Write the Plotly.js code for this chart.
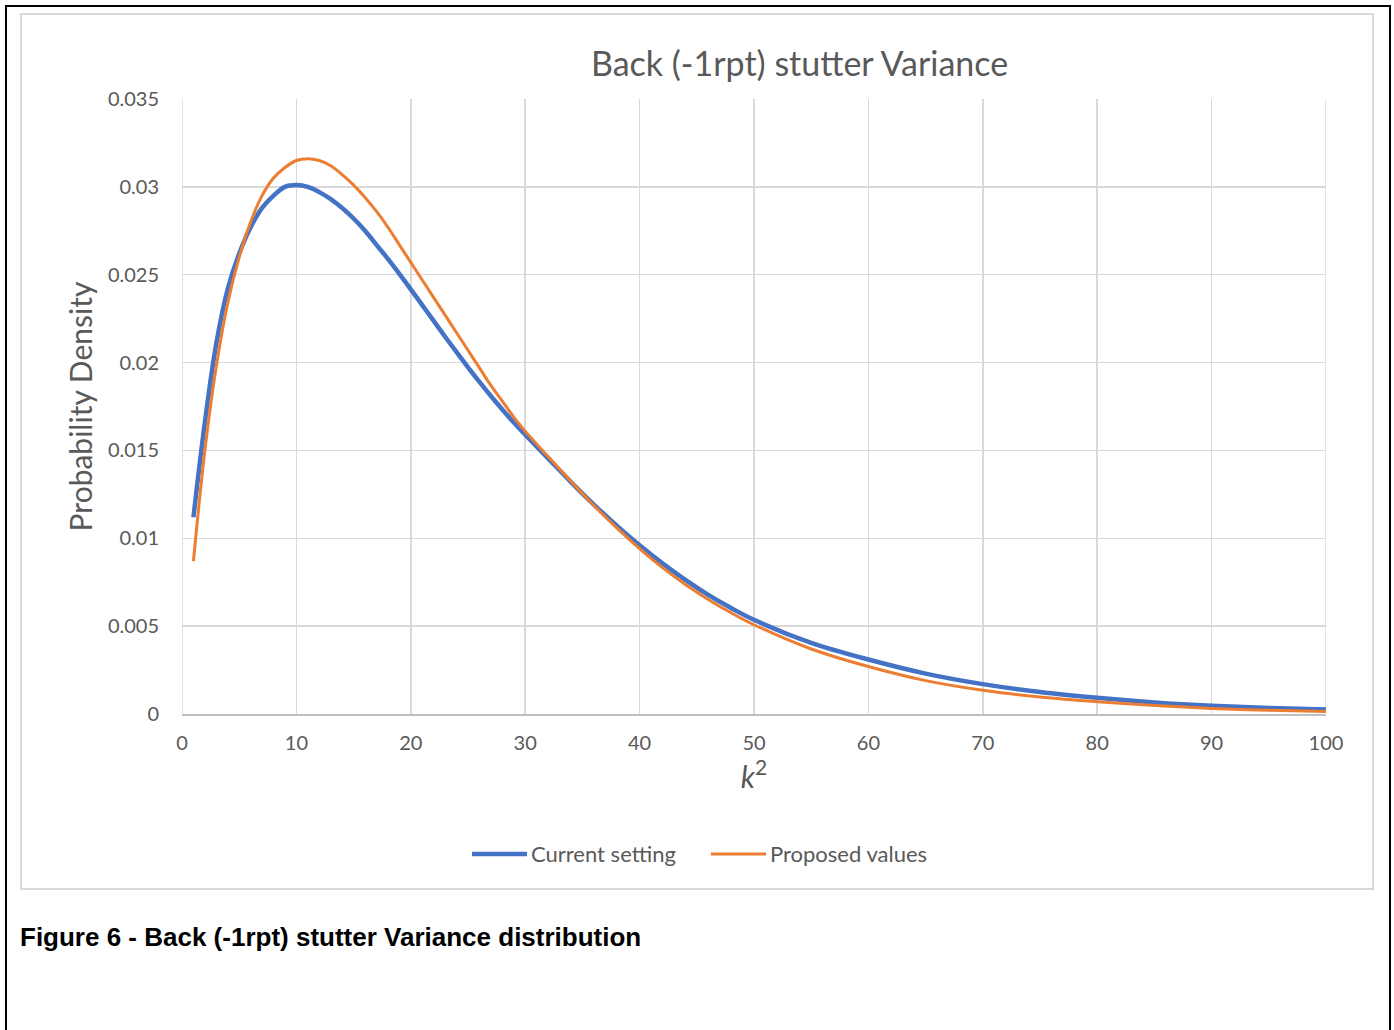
<!DOCTYPE html>
<html>
<head>
<meta charset="utf-8">
<script src="https://cdn.plot.ly/plotly-3.0.1.min.js"></script>
<style>
  html, body { margin: 0; padding: 0; background: #ffffff; }
  body { width: 1394px; height: 1030px; position: relative; overflow: hidden; }
  #frame { position: absolute; left: 5px; top: 5px; width: 1386px; height: 1040px;
           border: 2px solid #000; box-sizing: border-box; }
  #box { position: absolute; left: 20px; top: 13px; width: 1354px; height: 877px;
         border: 2px solid #d9d9d9; box-sizing: border-box; background: #fff; }
  #chart { width: 1350px; height: 873px; }
  #caption { position: absolute; left: 20px; top: 922px; font-family: "Liberation Sans", Arial, sans-serif;
             font-weight: bold; font-size: 26px; color: #000; }
</style>
</head>
<body>
<div id="frame"></div>
<div id="box"><div id="chart"></div></div>
<div id="caption">Figure 6 - Back (-1rpt) stutter Variance distribution</div>
<script>
// k^2 grid shared by both density curves
const k2 = [1, 2, 3, 4, 5, 6, 7, 8, 9, 10, 11, 12, 13, 14, 15, 16, 17, 18, 19, 20,
            21, 22, 23, 24, 25, 26, 27, 28, 29, 30, 32, 34, 36, 38, 40, 42, 44, 46, 48, 50,
            55, 60, 65, 70, 75, 80, 85, 90, 95, 100];

// Current setting
const currentSetting = [0.0112, 0.0166, 0.0211, 0.0242, 0.0262, 0.0277, 0.0288, 0.0295, 0.0300, 0.0301,
                        0.0300, 0.0297, 0.0293, 0.0288, 0.0282, 0.0275, 0.0267, 0.0259, 0.02505, 0.02417,
                        0.02327, 0.02237, 0.02147, 0.02059, 0.01973, 0.0189, 0.0181, 0.01733, 0.01659, 0.0159,
                        0.01455, 0.0132, 0.01192, 0.01072, 0.0096, 0.00857, 0.00763, 0.00678, 0.00603, 0.00536,
                        0.00405, 0.0031, 0.0023, 0.0017, 0.00125, 0.00092, 0.00066, 0.00047, 0.00034, 0.00025];

// Proposed values
const proposedValues = [0.0087, 0.0150, 0.0198, 0.0234, 0.0260, 0.0280, 0.0295, 0.0305, 0.0311, 0.0315,
                        0.0316, 0.0315, 0.0312, 0.0307, 0.0301, 0.0294, 0.0286, 0.0277, 0.0267, 0.0257,
                        0.0247, 0.0237, 0.0227, 0.0217, 0.0207, 0.0197, 0.0187, 0.0178, 0.0169, 0.0161,
                        0.01465, 0.01323, 0.01187, 0.01059, 0.00941, 0.00833, 0.00737, 0.00652, 0.00576, 0.00508,
                        0.0037, 0.0027, 0.0019, 0.00135, 0.00097, 0.00070, 0.00049, 0.00032, 0.00021, 0.00014];

const seriesNames = ["Current setting", "Proposed values"];
const seriesColors = ["#4472C4", "#ED7D31"];

const xTicks = [0, 10, 20, 30, 40, 50, 60, 70, 80, 90, 100];
const yTicks = [0, 0.005, 0.01, 0.015, 0.02, 0.025, 0.03, 0.035];
const yTickText = ["0", "0.005", "0.01", "0.015", "0.02", "0.025", "0.03", "0.035"];

const font = "Lato, 'Open Sans', sans-serif";
const grey = "#595959";
const gridColor = "#d9d9d9";

const traces = [
  { x: k2, y: currentSetting, type: "scatter", mode: "lines", name: seriesNames[0],
    line: { color: seriesColors[0], width: 4.5, shape: "spline", smoothing: 1 } },
  { x: k2, y: proposedValues, type: "scatter", mode: "lines", name: seriesNames[1],
    line: { color: seriesColors[1], width: 3, shape: "spline", smoothing: 1 } }
];

// legend drawn below the x-axis title: line sample + label for each series
const legendSlots = [
  { x0: 0.2535, x1: 0.3016, w: 4.5 },
  { x0: 0.4624, x1: 0.5105, w: 3 }
];
const legendY = -0.2276;
const legendShapes = legendSlots.map((s, i) => ({
  type: "line", xref: "paper", yref: "paper", x0: s.x0, x1: s.x1, y0: legendY, y1: legendY,
  line: { color: seriesColors[i], width: s.w }
}));
const legendLabels = legendSlots.map((s, i) => ({
  xref: "paper", yref: "paper", x: s.x1 + 0.002, y: legendY, xanchor: "left", yanchor: "middle",
  text: seriesNames[i], showarrow: false, font: { family: font, size: 22, color: grey }
}));

const layout = {
  width: 1350, height: 873,
  margin: { l: 160, r: 46, t: 84, b: 174 },
  paper_bgcolor: "#ffffff", plot_bgcolor: "#ffffff",
  font: { family: font, color: grey, size: 20 },
  title: { text: "Back (-1rpt) stutter Variance", font: { family: font, size: 34, color: grey },
           xref: "container", x: 0.576, xanchor: "center", yref: "container", y: 0.944, yanchor: "middle" },
  xaxis: {
    range: [0, 100], tickvals: xTicks, ticktext: xTicks.map(String),
    showgrid: true, gridcolor: gridColor, gridwidth: 1.5,
    zeroline: false, showline: true, linecolor: "#bfbfbf", linewidth: 1.5, mirror: false,
    ticks: "outside", ticklen: 10, tickcolor: "rgba(0,0,0,0)",
    tickfont: { family: font, size: 20, color: grey },
    title: { text: "<i>k</i><sup>2</sup>", font: { family: font, size: 30, color: grey }, standoff: 14 }
  },
  yaxis: {
    range: [0, 0.035], tickvals: yTicks, ticktext: yTickText,
    showgrid: true, gridcolor: gridColor, gridwidth: 1.5,
    zeroline: false, showline: false,
    ticks: "outside", ticklen: 18, tickcolor: "rgba(0,0,0,0)",
    tickfont: { family: font, size: 20, color: grey },
    title: { text: "Probability Density", font: { family: font, size: 30, color: grey }, standoff: 6 }
  },
  shapes: [
    { type: "line", xref: "x", yref: "paper", x0: 0, x1: 0, y0: 0, y1: 1,
      line: { color: gridColor, width: 1.5 }, layer: "below" },
    { type: "line", xref: "x", yref: "paper", x0: 100, x1: 100, y0: 0, y1: 1,
      line: { color: gridColor, width: 1.5 }, layer: "below" }
  ].concat(legendShapes),
  annotations: legendLabels,
  showlegend: false
};

Plotly.newPlot("chart", traces, layout, { displayModeBar: false, staticPlot: true });
</script>
</body>
</html>
